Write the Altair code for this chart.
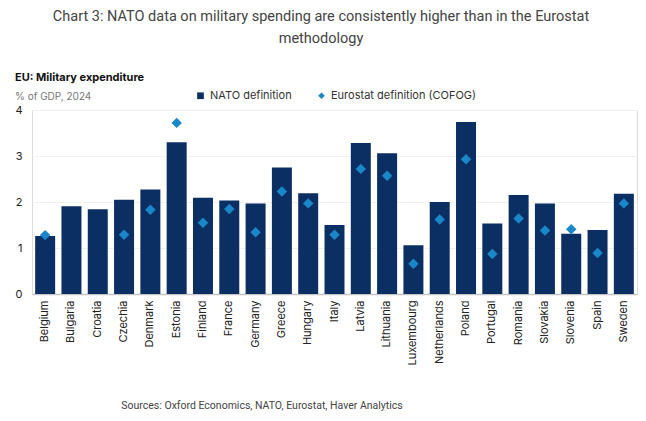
import altair as alt
import pandas as pd

countries = ["Belgium", "Bulgaria", "Croatia", "Czechia", "Denmark", "Estonia", "Finland",
             "France", "Germany", "Greece", "Hungary", "Italy", "Latvia", "Lithuania",
             "Luxembourg", "Netherlands", "Poland", "Portugal", "Romania", "Slovakia",
             "Slovenia", "Spain", "Sweden"]
nato = [1.26, 1.91, 1.84, 2.05, 2.27, 3.30, 2.09, 2.03, 1.97, 2.75, 2.19, 1.50, 3.28, 3.06,
        1.06, 2.00, 3.74, 1.53, 2.15, 1.97, 1.31, 1.39, 2.18]
cofog = [1.28, None, None, 1.29, 1.83, 3.72, 1.55, 1.85, 1.34, 2.23, 1.97, 1.29, 2.72, 2.57,
         0.66, 1.62, 2.93, 0.87, 1.64, 1.38, 1.41, 0.89, 1.97]
series_names = ["NATO definition", "Eurostat definition (COFOG)"]
series_colors = ["#0c2f63", "#1a87c8"]
series_shapes = ["square", "diamond"]

title_lines = ["Chart 3: NATO data on military spending are consistently higher than in the Eurostat",
               "methodology"]
header = "EU: Military expenditure"
unit = "% of GDP, 2024"
source = "Sources: Oxford Economics, NATO, Eurostat, Haver Analytics"

rows = []
for c, n, e in zip(countries, nato, cofog):
    rows.append({"country": c, "series": series_names[0], "value": n})
    if e is not None:
        rows.append({"country": c, "series": series_names[1], "value": e})
df = pd.DataFrame(rows)

FONT = "Inter"
W, H = 605, 184

color_scale = alt.Scale(domain=series_names, range=series_colors)
shape_scale = alt.Scale(domain=series_names, range=series_shapes)
legend = alt.Legend(title=None, orient="none", legendX=163, legendY=-20, direction="horizontal",
                    labelFont=FONT, labelFontSize=11, labelColor="#333333", symbolSize=45,
                    columnPadding=24, symbolStrokeWidth=0, labelOffset=4)

x_enc = alt.X("country:N", sort=countries, title=None,
              scale=alt.Scale(paddingInner=0.24, paddingOuter=0.12),
              axis=alt.Axis(labelAngle=-90, labelFont=FONT, labelFontSize=11, labelColor="#222222",
                            ticks=False, domainColor="#c4c4c4", domainWidth=1.5, labelPadding=6))
y_enc = alt.Y("value:Q", title=None, scale=alt.Scale(domain=[0, 4]),
              axis=alt.Axis(values=[0, 1, 2, 3, 4], labelFont=FONT, labelFontSize=11,
                            labelColor="#222222", ticks=False, domain=False, gridColor="#f0f0f0",
                            labelPadding=10, format="d"))

bars = alt.Chart(df).transform_filter(alt.datum.series == series_names[0]).mark_bar().encode(
    x=x_enc, y=y_enc,
    color=alt.Color("series:N", scale=color_scale, legend=legend),
    shape=alt.Shape("series:N", scale=shape_scale, legend=legend),
)
points = alt.Chart(df).transform_filter(alt.datum.series == series_names[1]).mark_point(
    filled=True, size=110, opacity=1).encode(
    x=x_enc, y=y_enc,
    color=alt.Color("series:N", scale=color_scale, legend=legend),
    shape=alt.Shape("series:N", scale=shape_scale, legend=legend),
)

one = pd.DataFrame({"k": [0]})
def txt(text, x, y, size, color, weight="normal", align="center", font="Roboto"):
    return alt.Chart(one).mark_text(align=align, baseline="middle", fontSize=size, color=color,
                                    fontWeight=weight, font=font).encode(
        x=alt.value(x), y=alt.value(y), text=alt.value(text))

texts = [
    txt(title_lines[0], 321 - 32, 17 - 110, 14.5, "#444444"),
    txt(title_lines[1], 321 - 32, 39 - 110, 14.5, "#444444"),
    txt(header, 15 - 32, 78 - 110, 11, "#111111", weight="bold", align="left", font=FONT),
    txt(unit, 15 - 32, 97 - 110, 10, "#777777", align="left", font=FONT),
    txt(source, 262 - 32, 406 - 110, 10.5, "#444444"),
]

chart = alt.layer(bars, points, *texts).properties(
    width=W, height=H,
    autosize=alt.AutoSizeParams(type="none"),
    padding={"left": 32, "top": 110, "right": 9, "bottom": 127},
).configure_view(stroke=None).configure(background="white")

chart.save("out.html", embed_options={"renderer": "svg", "actions": False})
